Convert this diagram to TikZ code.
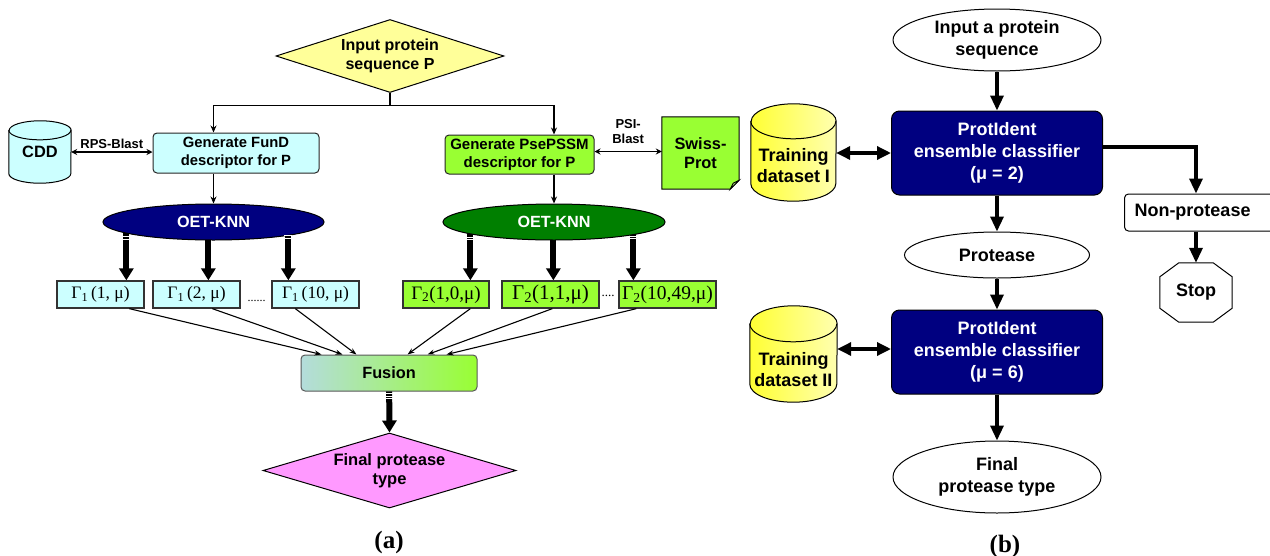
\documentclass[tikz,border=0pt]{standalone}
\usepackage{fontspec}
\setmainfont{Liberation Sans}
\newfontfamily\serif{Liberation Serif}
\usetikzlibrary{shapes.geometric,arrows.meta,calc,backgrounds}
\definecolor{ycol}{HTML}{FFFF99}
\definecolor{ccol}{HTML}{CCFFFF}
\definecolor{gcol}{HTML}{99FF33}
\definecolor{navyc}{HTML}{000080}
\definecolor{dgreen}{HTML}{007F00}
\definecolor{cpink}{HTML}{FF99FF}
\definecolor{fusl}{HTML}{B4DCDC}
\definecolor{yel1}{HTML}{FFFF33}
\definecolor{yel2}{HTML}{FFFFB0}
\newcommand\fs[2]{\fontsize{#1}{#2}\selectfont\bfseries}
\newcommand\gfs[2]{\serif\fontsize{#1}{#2}\selectfont\mdseries}
\newcommand{\mycyl}[4]{%
  \path[#4] ([yshift=-#3]#1.north west) -- ([yshift=#3]#1.south west)
     arc[start angle=180,end angle=360,x radius=#2,y radius=#3]
     -- ([yshift=-#3]#1.north east)
     arc[start angle=0,end angle=180,x radius=#2,y radius=#3] -- cycle;
  \draw[line width=1pt] ([yshift=-#3]#1.north west) arc[start angle=180,end angle=360,x radius=#2,y radius=#3];}
\begin{document}
\begin{tikzpicture}[x=1pt,y=-1pt,
  box/.style={draw=black!85, line width=1pt, rounded corners=4pt, inner sep=0pt, align=center},
  gbox/.style={draw=black!80, line width=1.3pt, inner sep=0pt},
  conn/.style={line width=1.3pt, -{Stealth[length=7pt,width=6pt]}},
  dblc/.style={line width=1.3pt, {Stealth[length=6pt,width=6pt]}-{Stealth[length=6pt,width=6pt]}},
  thinarr/.style={line width=1.1pt, -{Stealth[length=7pt,width=5pt]}},
  fat/.style={line width=6pt, -{Triangle[length=12pt,width=14pt]}},
  stripe/.style={white, line width=1pt},
  bconn/.style={line width=3.3pt, -{Triangle[length=15pt,width=13pt]}},
  bline/.style={line width=3.3pt},
  bdbl/.style={line width=3.3pt, {Triangle[length=14pt,width=13pt]}-{Triangle[length=14pt,width=13pt]}},
  bnode/.style={draw, line width=1pt, inner sep=0pt, align=center, font=\fs{18}{22}},
]
\useasboundingbox (0,0) rectangle (1270,555);
% ---------------- panel (a) ----------------
\node[diamond, draw, line width=1pt, fill=ycol, aspect=3.1, inner sep=0pt, minimum width=228, minimum height=73, align=center, font=\fs{16}{19}] (inp) at (390,56) {Input protein\\sequence P};
\node[box, fill=ccol, minimum width=166, minimum height=40, font=\fs{14.8}{18}] (fund) at (236,153) {Generate FunD\\descriptor for P};
\node[minimum width=62, minimum height=62, inner sep=0pt, font=\fs{16.4}{19}] (cdd) at (40,152) {CDD};
\node[box, fill=gcol, minimum width=149, minimum height=39, font=\fs{15}{18}] (psep) at (519.5,154.5) {Generate PsePSSM\\descriptor for P};
\node[minimum width=77, minimum height=72, inner sep=0pt, align=center, font=\fs{16.4}{19}] (sw) at (700.5,153) {Swiss-\\Prot};
\node[ellipse, draw, line width=1pt, fill=navyc, text=white, minimum width=221, minimum height=36, inner sep=0pt, font=\fs{16.2}{19}] (e1) at (213.5,222) {OET-KNN};
\node[ellipse, draw, line width=1pt, fill=dgreen, text=white, minimum width=222, minimum height=36, inner sep=0pt, font=\fs{16.2}{19}] (e2) at (554,222) {OET-KNN};
\node[gbox, fill=ccol, minimum width=87, minimum height=27, font=\gfs{17.5}{20}] (g11) at (100.5,294.5) {Γ\textsubscript{1}\,(1, μ)};
\node[gbox, fill=ccol, minimum width=87, minimum height=27, font=\gfs{17.5}{20}] (g12) at (196.5,294.5) {Γ\textsubscript{1}\,(2, μ)};
\node[gbox, fill=ccol, minimum width=87, minimum height=27, font=\gfs{17.5}{20}] (g13) at (315.5,294.5) {Γ\textsubscript{1}\,(10, μ)};
\node[gbox, fill=gcol, minimum width=86, minimum height=27, font=\gfs{19}{20}] (g21) at (446,294.5) {Γ\textsubscript{2}(1,0,μ)};
\node[gbox, fill=gcol, minimum width=97, minimum height=27, font=\gfs{21}{22}] (g22) at (550.5,294.5) {Γ\textsubscript{2}(1,1,μ)};
\node[gbox, fill=gcol, minimum width=97, minimum height=27, font=\gfs{19.5}{20}] (g23) at (667.5,294.5) {Γ\textsubscript{2}(10,49,μ)};
\node[inner sep=0pt, font=\gfs{12}{12}] (d1) at (256.5,301) {......};
\node[inner sep=0pt, font=\gfs{13}{13}] (d2) at (608,296) {....};
\node[box, draw=black!65, left color=fusl, right color=gcol, minimum width=176, minimum height=36, font=\fs{16.3}{19}] (fus) at (389,373) {Fusion};
\node[diamond, draw, line width=1pt, fill=cpink, aspect=3.37, inner sep=0pt, minimum width=253, minimum height=75, align=center, font=\fs{16.5}{19}] (fin) at (389.5,470.5) {Final protease\\type};
\node[font=\serif\fontsize{25}{25}\selectfont\bfseries] (la) at (389,542) {(a)};
% coordinates on box tops for thick arrows
\coordinate (t11) at ($(g11.north west)+(70,0)$);
\coordinate (t12) at ($(g12.north west)+(56,0)$);
\coordinate (t13) at ($(g13.north west)+(17,0)$);
\coordinate (t21) at ($(g21.north west)+(68,0)$);
\coordinate (t22) at ($(g22.north west)+(52,0)$);
\coordinate (t23) at ($(g23.north west)+(15,0)$);
% ---------------- panel (b) ----------------
\node[bnode, ellipse, fill=white, minimum width=208, minimum height=62] (inp2) at (997,40) {Input a protein\\sequence};
\node[bnode, rounded corners=8pt, fill=navyc, text=white, minimum width=211, minimum height=84] (cls1) at (997,153) {ProtIdent\\ensemble classifier\\(μ = 2)};
\node[bnode, ellipse, fill=white, minimum width=185, minimum height=46] (prot) at (997,255) {Protease};
\node[bnode, rounded corners=8pt, fill=navyc, text=white, minimum width=211, minimum height=84] (cls2) at (997,352) {ProtIdent\\ensemble classifier\\(μ = 6)};
\node[bnode, ellipse, fill=white, minimum width=208, minimum height=72] (fin2) at (997,477) {Final\\protease type};
\node[minimum width=85, minimum height=97, inner sep=0pt] (tr1) at (793.5,152.5) {};
\node[align=center, font=\fs{18}{21}] (tr1t) at (793.5,166) {Training\\dataset I};
\node[minimum width=87, minimum height=96, inner sep=0pt] (tr2) at (793.5,354) {};
\node[align=center, font=\fs{18}{21}] (tr2t) at (793.5,369.5) {Training\\dataset II};
\node[bnode, rounded corners=4pt, fill=white, minimum height=37, text width=132pt, inner xsep=10pt, anchor=west, align=left] (np) at (1124,212.5) {Non-protease};
\node[minimum width=72, minimum height=59, inner sep=0pt, font=\fs{18}{21}] (stop) at (1196,292.5) {Stop};
\node[font=\serif\fontsize{25}{25}\selectfont\bfseries] (lb) at (1005,546) {(b)};
% ---------------- background drawings ----------------
\begin{pgfonlayer}{background}
  \mycyl{cdd}{31pt}{9.5pt}{draw, line width=1pt, fill=ccol}
  \mycyl{tr1}{42.5pt}{17.5pt}{draw, line width=1pt, left color=yel1, right color=yel2}
  \mycyl{tr2}{43.5pt}{18pt}{draw, line width=1pt, left color=yel1, right color=yel2}
  \path[draw, line width=1pt, fill=gcol] (sw.north west) -- (sw.north east) -- ([yshift=9pt]sw.south east) -- ([xshift=-9pt]sw.south east) -- (sw.south west) -- cycle;
  \path[draw, line width=0.8pt, fill=gcol!75!black!60!white] ([yshift=9pt]sw.south east) -- ([xshift=-9pt]sw.south east) -- ([xshift=-6pt,yshift=6pt]sw.south east) -- cycle;
  \path[draw, line width=1pt, fill=white] ($(stop.north west)+(19,0)$) -- ($(stop.north east)+(-19,0)$) -- ($(stop.north east)+(0,14)$) -- ($(stop.south east)+(0,-14)$) -- ($(stop.south east)+(-19,0)$) -- ($(stop.south west)+(19,0)$) -- ($(stop.south west)+(0,-14)$) -- ($(stop.north west)+(0,14)$) -- cycle;
  \draw[fat] (t11 |- e1.center) -- (t11);
  \draw[fat] (t12 |- e1.center) -- (t12);
  \draw[fat] (t13 |- e1.center) -- (t13);
  \draw[fat] (t21 |- e2.center) -- (t21);
  \draw[fat] (t22 |- e2.center) -- (t22);
  \draw[fat] (t23 |- e2.center) -- (t23);
  \draw[fat] (fus.center) -- (fin.north);
\end{pgfonlayer}
% stripes on thick arrows
\foreach \c/\a/\b in {t11/43.5/40.5, t13/44.5/42, t21/43/40.5, t23/44/41.5} {
  \draw[stripe] ($(\c)+(-4,-\a)$) -- ++(8,0);
  \draw[stripe] ($(\c)+(-4,-\b)$) -- ++(8,0);
}
\draw[stripe] ($(fus.south)+(-4,1.5)$) -- ++(8,0);
\draw[stripe] ($(fus.south)+(-4,4.8)$) -- ++(8,0);
\draw[stripe] ($(fus.south)+(-4,7.3)$) -- ++(8,0);
% ---------------- connectors (a) ----------------
\draw[conn] (inp.south) -- ++(0,12.5) -| (e1.north |- fund.north);
\draw[conn] (inp.south) -- ++(0,12.5) -| (e2.north |- psep.north);
\draw[conn] (fund.south -| e1.north) -- (e1.north);
\draw[conn] (psep.south -| e2.north) -- (e2.north);
\draw[dblc] (cdd.east) -- (cdd.east -| fund.west) node[midway, above=3pt, inner sep=0pt, font=\fs{13}{15}] (rps) {RPS-Blast};
\coordinate (pe) at ([yshift=3pt]psep.east);
\draw[dblc] (pe) -- (pe -| sw.west) node[midway, above=7pt, inner sep=0pt, align=center, font=\fs{13}{15}] (psi) {PSI-\\Blast};
\draw[thinarr] ($(g11.south west)+(73,0)$) -- ($(fus.north west)+(21,0)$);
\draw[thinarr] ($(g12.south west)+(60,0)$) -- ($(fus.north west)+(42,0)$);
\draw[thinarr] ($(g13.south west)+(24,0)$) -- ($(fus.north west)+(56,0)$);
\draw[thinarr] ($(g21.south west)+(68,0)$) -- ($(fus.north west)+(107,0)$);
\draw[thinarr] ($(g22.south west)+(51,0)$) -- ($(fus.north west)+(127,0)$);
\draw[thinarr] ($(g23.south west)+(18,0)$) -- ($(fus.north west)+(146,0)$);
% ---------------- connectors (b) ----------------
\draw[bconn] (inp2.south) -- (cls1.north);
\draw[bconn] (cls1.south) -- (prot.north);
\draw[bconn] (prot.south) -- (cls2.north);
\draw[bconn] (cls2.south) -- (fin2.north);
\draw[bdbl] (tr1.east |- cls1.west) -- (cls1.west);
\coordinate (c2w) at ([yshift=3pt]cls2.west);
\draw[bdbl] (tr2.east |- c2w) -- (c2w);
\draw[bconn] ([yshift=6pt]cls1.east) -| (stop.north |- np.north);
\draw[bconn] (stop.north |- np.south) -- (stop.north);
\end{tikzpicture}
\end{document}
